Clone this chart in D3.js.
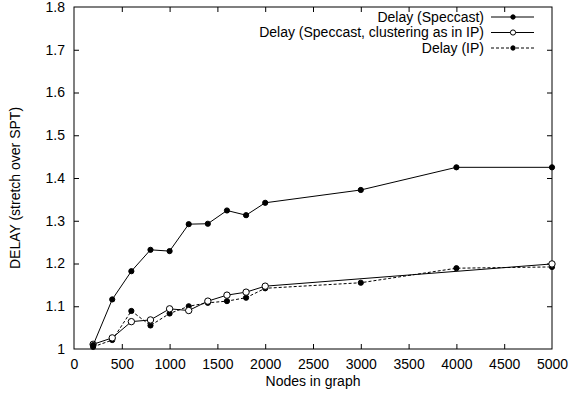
<!DOCTYPE html>
<html>
<head>
<meta charset="utf-8">
<script src="https://cdn.jsdelivr.net/npm/d3@7"></script>
<style>
  body { margin: 0; background: #fff; }
  text { font-family: "Liberation Sans", Arial, sans-serif; font-size: 14px; fill: #000; }
</style>
</head>
<body>
<div id="chart"></div>
<script>
// data
var nodes = [200, 400, 600, 800, 1000, 1200, 1400, 1600, 1800, 2000, 3000, 4000, 5000];
var speccast = [1.009, 1.116, 1.182, 1.232, 1.229, 1.292, 1.293, 1.324, 1.313, 1.342, 1.372, 1.425, 1.425];
var clusterNodes = [200, 400, 600, 800, 1000, 1200, 1400, 1600, 1800, 2000, 5000];
var clustering = [1.011, 1.026, 1.064, 1.068, 1.094, 1.090, 1.112, 1.126, 1.133, 1.147, 1.199];
var ipDelay = [1.005, 1.021, 1.089, 1.055, 1.083, 1.100, 1.108, 1.112, 1.120, 1.142, 1.155, 1.189, 1.192];
var xTicks = d3.range(0, 5001, 500);
var yTicks = [1, 1.1, 1.2, 1.3, 1.4, 1.5, 1.6, 1.7, 1.8];

var W = 570, H = 398;
var margin = { top: 7, right: 18, bottom: 49, left: 74 };
var width = W - margin.left - margin.right;
var height = H - margin.top - margin.bottom;

var svg = d3.select("#chart").append("svg")
    .attr("width", W)
    .attr("height", H);

var g = svg.append("g")
    .attr("transform", `translate(${margin.left},${margin.top})`);

var x = d3.scaleLinear().domain([0, 5000]).range([0, width]);
var y = d3.scaleLinear().domain([1, 1.8]).range([height, 0]);

// axes (gnuplot style: ticks inward, mirrored)
var xAxis = g.append("g")
    .attr("transform", `translate(0,${height})`)
    .call(d3.axisBottom(x).tickValues(xTicks).tickSize(-5).tickPadding(10.5).tickFormat(d3.format("d")));
var xTop = g.append("g")
    .call(d3.axisTop(x).tickValues(xTicks).tickSize(-5).tickFormat(""));
var yAxis = g.append("g")
    .call(d3.axisLeft(y).tickValues(yTicks).tickSize(-5).tickPadding(9).tickFormat(d => d === 1 ? "1" : d3.format(".1f")(d)));
var yRight = g.append("g")
    .attr("transform", `translate(${width},0)`)
    .call(d3.axisRight(y).tickValues(yTicks).tickSize(-5).tickFormat(""));

[xAxis, xTop, yAxis, yRight].forEach(function (a) {
    a.select(".domain").remove();
    a.selectAll("line").attr("stroke", "#000");
    a.selectAll("text").style("font-size", "14px").attr("fill", "#000");
});
// drop end ticks that sit on the frame
xTop.selectAll(".tick").filter(d => d === 0 || d === 5000).remove();
xAxis.selectAll(".tick line").filter(d => d === 0 || d === 5000).remove();
yAxis.selectAll(".tick line").filter(d => d === 1 || d === 1.8).remove();
yRight.selectAll(".tick").filter(d => d === 1 || d === 1.8).remove();

g.append("rect")
    .attr("width", width)
    .attr("height", height)
    .attr("fill", "none")
    .attr("stroke", "#000")
    .attr("stroke-width", 1);

var line = d3.line().x(d => x(d[0])).y(d => y(d[1]));

function drawSeries(xs, ys, dash, open) {
    var pts = xs.map((v, i) => [v, ys[i]]);
    g.append("path")
        .datum(pts)
        .attr("fill", "none")
        .attr("stroke", "#000")
        .attr("stroke-width", 1)
        .attr("stroke-dasharray", dash)
        .attr("d", line);
    g.selectAll(null)
        .data(pts)
        .enter().append("circle")
        .attr("cx", d => x(d[0]))
        .attr("cy", d => y(d[1]))
        .attr("r", open ? 3.2 : 2.6)
        .attr("fill", open ? "#fff" : "#000")
        .attr("stroke", "#000")
        .attr("stroke-width", 1);
}

drawSeries(nodes, ipDelay, "3,2", false);
drawSeries(clusterNodes, clustering, null, true);
drawSeries(nodes, speccast, null, false);

// legend
var legend = [
    { label: "Delay (Speccast)", dash: null, open: false },
    { label: "Delay (Speccast, clustering as in IP)", dash: null, open: true },
    { label: "Delay (IP)", dash: "3,2", open: false }
];
legend.forEach(function (d, i) {
    var ly = 17 + i * 15.5;
    svg.append("text")
        .attr("x", 484)
        .attr("y", ly)
        .attr("dy", "0.35em")
        .attr("text-anchor", "end")
        .text(d.label);
    svg.append("line")
        .attr("x1", 491).attr("x2", 534)
        .attr("y1", ly).attr("y2", ly)
        .attr("stroke", "#000")
        .attr("stroke-dasharray", d.dash);
    svg.append("circle")
        .attr("cx", 513).attr("cy", ly)
        .attr("r", d.open ? 2.6 : 2.2)
        .attr("fill", d.open ? "#fff" : "#000")
        .attr("stroke", "#000");
});

// axis titles
svg.append("text")
    .attr("x", margin.left + width / 2)
    .attr("y", 386)
    .attr("text-anchor", "middle")
    .text("Nodes in graph");

svg.append("text")
    .attr("transform", "translate(20,188) rotate(-90)")
    .attr("text-anchor", "middle")
    .text("DELAY (stretch over SPT)");
</script>
</body>
</html>
